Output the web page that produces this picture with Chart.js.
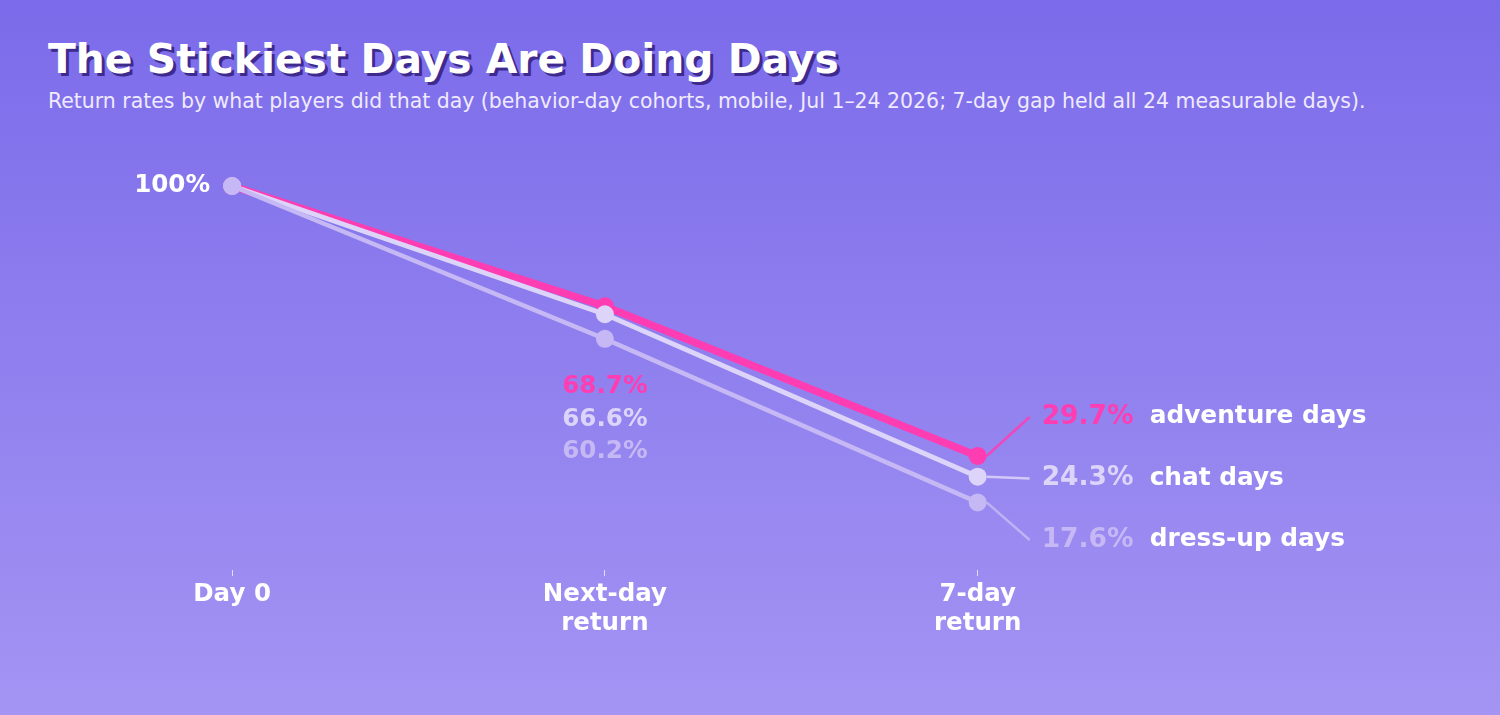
<!DOCTYPE html>
<html>
<head>
<meta charset="utf-8">
<script src="https://cdn.jsdelivr.net/npm/chart.js@4.4.1/dist/chart.umd.min.js"></script>
<style>
  html, body { margin: 0; padding: 0; }
  body {
    width: 1500px; height: 715px; overflow: hidden;
    background: linear-gradient(to bottom, #7b6bea 0%, #a494f3 100%);
    font-family: "DejaVu Sans", sans-serif;
    position: relative;
  }
  h1 {
    position: absolute; left: 48px; top: 36px; margin: 0;
    font-size: 40.8px; font-weight: bold; color: #fff;
    text-shadow: 3px 3px 0 #3d2a8c;
    line-height: 46px; white-space: nowrap;
  }
  .sub {
    position: absolute; left: 48px; top: 89px; margin: 0;
    font-size: 20.45px; color: #efeaff; line-height: 24px; white-space: nowrap;
  }
  #chart { position: absolute; left: 0; top: 0; }
</style>
</head>
<body>
<h1>The Stickiest Days Are Doing Days</h1>
<p class="sub">Return rates by what players did that day (behavior-day cohorts, mobile, Jul 1–24 2026; 7-day gap held all 24 measurable days).</p>
<canvas id="chart" width="1500" height="715"></canvas>
<script>
// stages on the x axis
let stages = [['Day 0'], ['Next-day', 'return'], ['7-day', 'return']];

// return rates (%) per behavior-day cohort
let seriesNames = ['adventure days', 'chat days', 'dress-up days'];
let adventure = [100, 68.7, 29.7];
let chat = [100, 66.6, 24.3];
let dressUp = [100, 60.2, 17.6];

let colors = ['#ff3db3', '#ddd5f9', '#c5b8f4'];
let widths = [7.5, 5, 4.5];

function toPoints(values) {
    return values.map((v, i) => ({x: i, y: v}));
}

let allSeries = [adventure, chat, dressUp];

// labels: 100% at start, middle stack, and right-hand end labels
let labelPlugin = {
    id: 'labels',
    afterDatasetsDraw(chart) {
        let ctx = chart.ctx;
        let xs = chart.scales.x;
        let ys = chart.scales.y;
        ctx.save();

        // start value
        ctx.font = 'bold 24.6px "DejaVu Sans"';
        ctx.fillStyle = '#ffffff';
        ctx.textAlign = 'right';
        ctx.textBaseline = 'middle';
        ctx.fillText(adventure[0] + '%', xs.getPixelForValue(0) - 22, ys.getPixelForValue(adventure[0]));

        // middle stack under the next-day points
        ctx.textAlign = 'center';
        let midX = xs.getPixelForValue(1);
        let midY = ys.getPixelForValue(dressUp[1]) + 48;
        allSeries.forEach((s, i) => {
            ctx.fillStyle = colors[i];
            ctx.fillText(s[1].toFixed(1) + '%', midX, midY + i * 32.5);
        });

        // end labels with connectors
        let endX = xs.getPixelForValue(2);
        let labelTop = ys.getPixelForValue(adventure[2]) - 39;
        allSeries.forEach((s, i) => {
            let py = ys.getPixelForValue(s[2]);
            let ly = labelTop + i * 61.5;
            ctx.strokeStyle = colors[i];
            ctx.globalAlpha = 0.85;
            ctx.lineWidth = 2.5;
            ctx.beginPath();
            ctx.moveTo(endX + 9, py);
            ctx.lineTo(endX + 52, ly);
            ctx.stroke();
            ctx.globalAlpha = 1;

            ctx.textAlign = 'left';
            ctx.font = 'bold 26.5px "DejaVu Sans"';
            ctx.fillStyle = colors[i];
            ctx.fillText(s[2].toFixed(1) + '%', endX + 64, ly);
            ctx.font = 'bold 24.8px "DejaVu Sans"';
            ctx.fillStyle = '#ffffff';
            ctx.fillText(seriesNames[i], endX + 172, ly);
        });
        ctx.restore();
    }
};

new Chart(document.querySelector('#chart'), {
    type: 'line',
    data: {
        datasets: allSeries.map((s, i) => ({
            label: seriesNames[i],
            data: toPoints(s),
            borderColor: colors[i],
            backgroundColor: colors[i],
            pointBackgroundColor: colors[i],
            pointBorderWidth: 0,
            borderWidth: widths[i],
            pointRadius: 9,
            order: 3 - i,
            tension: 0,
            clip: false
        }))
    },
    options: {
        responsive: false,
        animation: false,
        devicePixelRatio: 1,
        layout: { padding: { left: 83, right: 75, top: 186, bottom: 0 } },
        plugins: {
            legend: { display: false },
            tooltip: { enabled: false }
        },
        scales: {
            x: {
                type: 'linear',
                min: -0.4,
                max: 3.2,
                afterBuildTicks(axis) {
                    axis.ticks = stages.map((s, i) => ({value: i}));
                },
                afterFit(axis) {
                    axis.height = 145;
                },
                grid: {
                    display: true,
                    drawOnChartArea: false,
                    drawTicks: true,
                    tickLength: 6,
                    color: 'rgba(255,255,255,0.7)',
                    lineWidth: 1
                },
                border: { display: false },
                ticks: {
                    color: '#ffffff',
                    font: { family: '"DejaVu Sans"', size: 24.5, weight: 'bold', lineHeight: 1.18 },
                    padding: 4,
                    maxRotation: 0,
                    autoSkip: false,
                    callback: (v) => stages[v]
                }
            },
            y: {
                min: 0,
                max: 100,
                display: false
            }
        }
    },
    plugins: [labelPlugin]
});
</script>
</body>
</html>
